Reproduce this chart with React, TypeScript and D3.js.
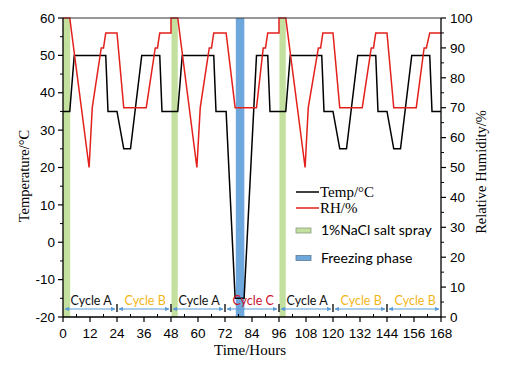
import React from 'react'
import * as d3 from 'd3'

// [hour, value]
const tempPoints: [number, number][] = [
  [0, 35], [3, 35], [5, 50], [19, 50], [20, 35], [24, 35],
  [27, 25], [30, 25], [35, 50], [43, 50], [44, 35], [48, 35],
  [51, 35], [53, 50], [67, 50], [68, 35], [72.5, 35],
  [76.5, -15], [80.5, -15], [86, 50], [91, 50], [92, 35], [96, 35],
  [99, 35], [101, 50], [115, 50], [116, 35], [120, 35],
  [123, 25], [126, 25], [131, 50], [139, 50], [140, 35], [144, 35],
  [147, 25], [150, 25], [155, 50], [163, 50], [164, 35], [168, 35],
]
const rhPoints: [number, number][] = [
  [0, 100], [3, 100], [11.6, 50], [13, 70], [17, 90], [18, 90], [19, 95], [24, 95],
  [27, 70], [37, 70], [41, 90], [42, 90], [43, 95], [48, 95],
  [48, 100], [51, 100], [59.5, 50], [61, 70], [65, 90], [66, 90], [67, 95], [72.5, 95],
  [76.5, 70], [86, 70], [89, 90], [90, 90], [91, 95], [96, 95],
  [96, 100], [99, 100], [107.6, 50], [109, 70], [113.5, 90], [114.5, 90], [115.5, 95], [120, 95],
  [123, 70], [133, 70], [137, 90], [138, 90], [139, 95], [144, 95],
  [147, 70], [157, 70], [160.5, 90], [161.5, 90], [163, 95], [168, 95],
]
const saltSpray: [number, number][] = [[0, 3.2], [48.2, 51], [96.2, 99]]
const freezing: [number, number][] = [[76.8, 80.6]]
const cycleStarts = [0, 24, 48, 72, 96, 120, 144]
const cycleNames = ['Cycle A', 'Cycle B', 'Cycle A', 'Cycle C', 'Cycle A', 'Cycle B', 'Cycle B']
const xTicks = [0, 12, 24, 36, 48, 60, 72, 84, 96, 108, 120, 132, 144, 156, 168]
const tempTicks = [-20, -10, 0, 10, 20, 30, 40, 50, 60]
const rhTicks = [0, 10, 20, 30, 40, 50, 60, 70, 80, 90, 100]

const cycleColor: Record<string, string> = {
  'Cycle A': '#111',
  'Cycle B': '#f2b517',
  'Cycle C': '#c8102e',
}

const L = 63, R = 441, T = 18, B = 317
const sans = 'Liberation Sans, Arial, sans-serif'
const serif = 'Liberation Serif, Times New Roman, serif'
const calib = 'Lato, sans-serif'

export default function App() {
  const x = d3.scaleLinear().domain([0, 168]).range([L, R])
  const yT = d3.scaleLinear().domain([-20, 60]).range([B, T])
  const yH = d3.scaleLinear().domain([0, 100]).range([B, T])

  const tLine = d3.line<[number, number]>().x(d => x(d[0])).y(d => yT(d[1]))
  const hLine = d3.line<[number, number]>().x(d => x(d[0])).y(d => yH(d[1]))

  const tMinor = d3.range(-15, 60, 10)
  const hMinor = d3.range(5, 100, 10)
  const xMinor = d3.range(6, 168, 12)
  const arrowY = 309

  return (
    <svg width={509} height={369} style={{ position: 'absolute', left: 0, top: 0, background: '#fff' }}>
      <defs>
        <marker id="ah" viewBox="0 0 10 10" refX="9" refY="5" markerWidth="4" markerHeight="4" orient="auto-start-reverse">
          <path d="M0,0L10,5L0,10z" fill="#5b9bd5" />
        </marker>
      </defs>

      {saltSpray.map(([a, b], i) => (
        <rect key={'s' + i} x={x(a)} y={T} width={x(b) - x(a)} height={B - T} fill="#c3e09f" />
      ))}
      {freezing.map(([a, b], i) => (
        <rect key={'f' + i} x={x(a)} y={T} width={x(b) - x(a)} height={B - T} fill="#6ea7dc" />
      ))}

      <path d={tLine(tempPoints) || ''} fill="none" stroke="#000" strokeWidth={1.5} />
      <path d={hLine(rhPoints) || ''} fill="none" stroke="#e3201b" strokeWidth={1.5} />

      {/* frame */}
      <line x1={L} x2={R} y1={T} y2={T} stroke="#333" strokeWidth={1.2} />
      <line x1={L} x2={L} y1={T} y2={B} stroke="#000" strokeWidth={1.3} />
      <line x1={R} x2={R} y1={T} y2={B} stroke="#000" strokeWidth={1.3} />
      <line x1={L} x2={R} y1={B} y2={B} stroke="#000" strokeWidth={1.3} />

      {/* left axis */}
      {tempTicks.map(v => (
        <g key={'lt' + v}>
          <line x1={L - 5} x2={L} y1={yT(v)} y2={yT(v)} stroke="#000" strokeWidth={1.2} />
          <text x={L - 8} y={yT(v)} dy="0.35em" textAnchor="end" fontFamily={sans} fontSize={13.5}>{v}</text>
        </g>
      ))}
      {tMinor.map(v => (
        <line key={'ltm' + v} x1={L - 3} x2={L} y1={yT(v)} y2={yT(v)} stroke="#000" strokeWidth={1} />
      ))}

      {/* right axis */}
      {rhTicks.map(v => (
        <g key={'rt' + v}>
          <line x1={R} x2={R + 5} y1={yH(v)} y2={yH(v)} stroke="#000" strokeWidth={1.2} />
          <text x={R + 9} y={yH(v)} dy="0.35em" textAnchor="start" fontFamily={sans} fontSize={13.5}>{v}</text>
        </g>
      ))}
      {hMinor.map(v => (
        <line key={'rtm' + v} x1={R} x2={R + 3} y1={yH(v)} y2={yH(v)} stroke="#000" strokeWidth={1} />
      ))}

      {/* bottom axis */}
      {xTicks.map(v => (
        <g key={'bt' + v}>
          <line x1={x(v)} x2={x(v)} y1={B} y2={B + 5} stroke="#000" strokeWidth={1.2} />
          <text x={x(v)} y={B + 21} textAnchor="middle" fontFamily={sans} fontSize={13.5}>{v}</text>
        </g>
      ))}
      {xMinor.map(v => (
        <line key={'btm' + v} x1={x(v)} x2={x(v)} y1={B - 3} y2={B} stroke="#000" strokeWidth={1} />
      ))}

      {/* cycles */}
      {cycleStarts.map((s, i) => {
        const e = s + 24
        return (
          <g key={'c' + i}>
            <line x1={x(s) + 2} x2={x(e) - 2} y1={arrowY} y2={arrowY} stroke="#5b9bd5" strokeWidth={1.1}
              markerStart="url(#ah)" markerEnd="url(#ah)" />
            {s > 0 && (
              <line x1={x(s)} x2={x(s)} y1={arrowY - 5} y2={arrowY + 3} stroke="#000" strokeWidth={1.3} />
            )}
            <text x={x(s + 12.5)} y={arrowY - 4} textAnchor="middle" fontFamily={calib} fontSize={12.5}
              fill={cycleColor[cycleNames[i]]}>{cycleNames[i]}</text>
          </g>
        )
      })}

      {/* axis titles */}
      <text x={250} y={355} textAnchor="middle" fontFamily={serif} fontSize={15}>Time/Hours</text>
      <text transform="translate(24,176) rotate(-90)" textAnchor="middle" dominantBaseline="central"
        fontFamily={serif} fontSize={14.5}>Temperature/°C</text>
      <text transform="translate(481,172) rotate(-90)" textAnchor="middle" dominantBaseline="central"
        fontFamily={serif} fontSize={14.5}>Relative Humidity/%</text>

      {/* legend */}
      <line x1={296} x2={319} y1={192} y2={192} stroke="#000" strokeWidth={1.5} />
      <text x={320} y={197} fontFamily={serif} fontSize={15}>Temp/°C</text>
      <line x1={296} x2={319} y1={208} y2={208} stroke="#e3201b" strokeWidth={1.5} />
      <text x={320} y={213} fontFamily={serif} fontSize={15}>RH/%</text>
      <rect x={296} y={228} width={15} height={5} fill="#c3e09f" stroke="#8a9a80" strokeWidth={0.8} />
      <text x={321} y={235} fontFamily={calib} fontSize={14}>1%NaCl salt spray</text>
      <rect x={296} y={255.5} width={15} height={5} fill="#6ea7dc" stroke="#5a7a9a" strokeWidth={0.8} />
      <text x={321} y={263} fontFamily={calib} fontSize={14}>Freezing phase</text>
    </svg>
  )
}
